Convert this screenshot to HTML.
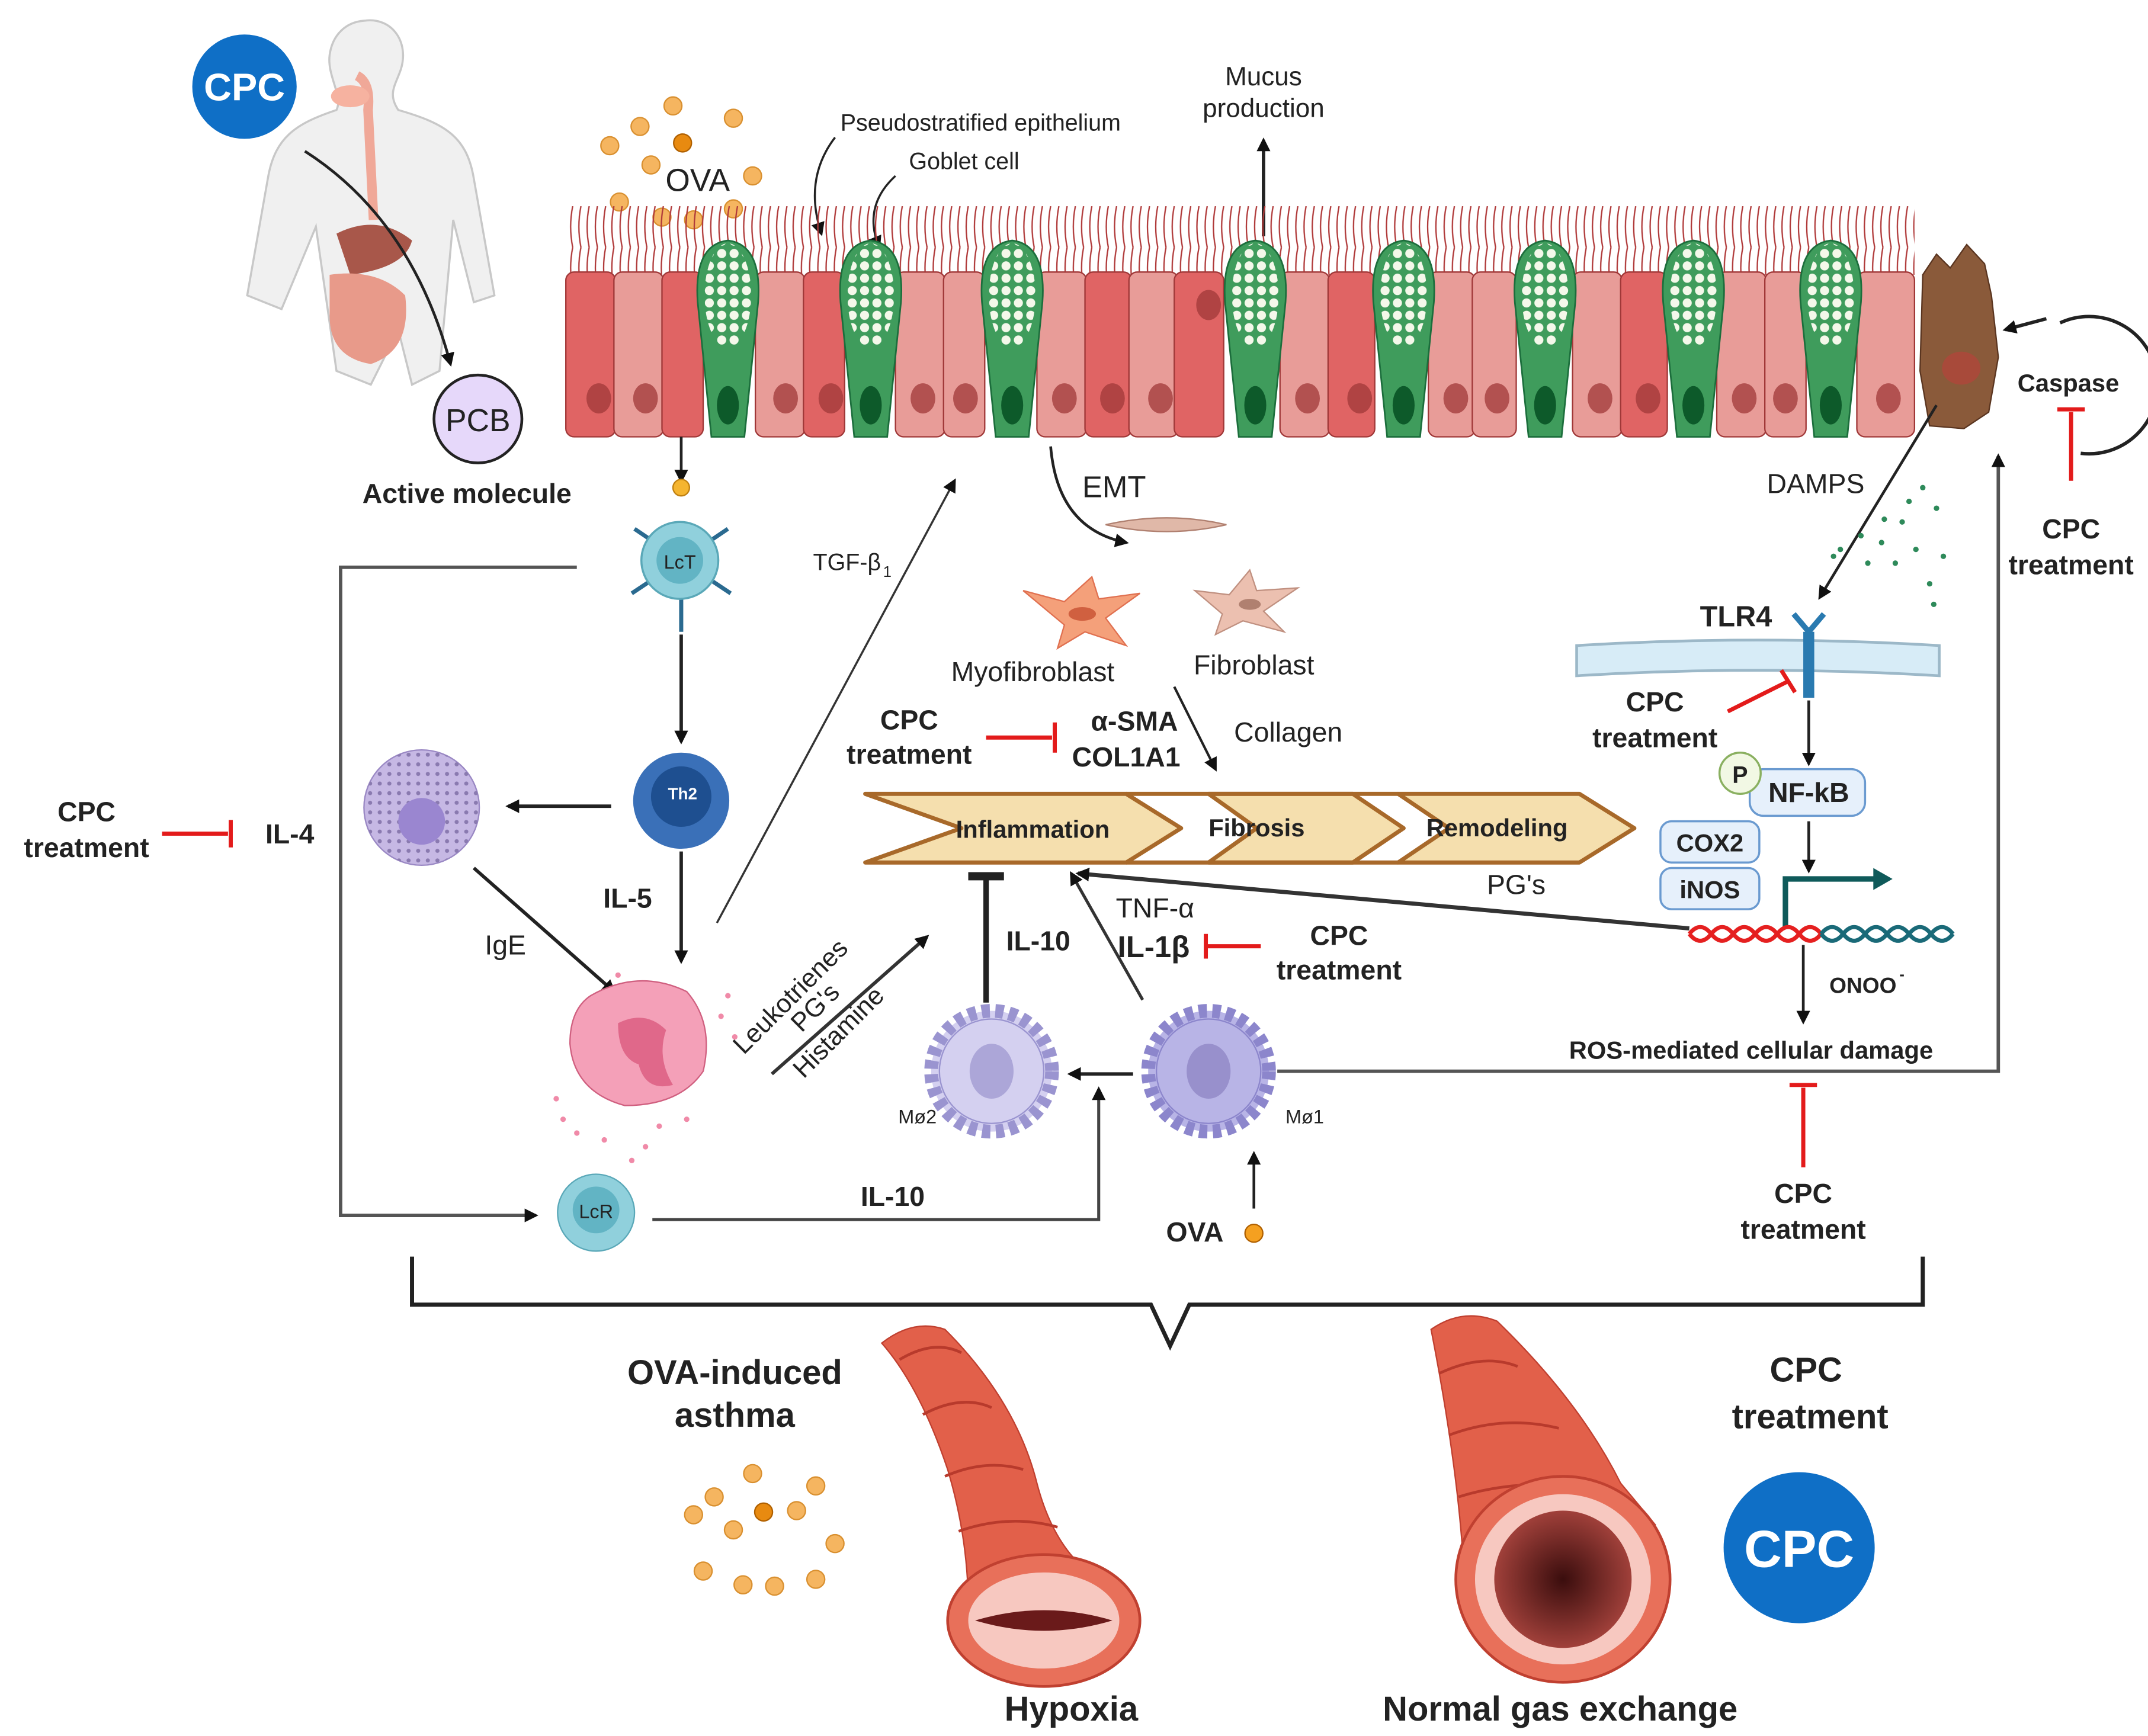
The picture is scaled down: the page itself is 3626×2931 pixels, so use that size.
<!DOCTYPE html>
<html><head><meta charset="utf-8"><style>
html,body{margin:0;padding:0;background:#fff}
svg{display:block}
text{font-family:"Liberation Sans",sans-serif;fill:#222}
.b{font-weight:bold}
</style></head><body>
<svg width="3626" height="2931" viewBox="0 0 1564 1264" xmlns="http://www.w3.org/2000/svg">
<defs>
<marker id="ah" markerWidth="10" markerHeight="10" refX="8" refY="5" orient="auto" markerUnits="userSpaceOnUse"><path d="M0,0 L10,5 L0,10 z" fill="#111"/></marker>
<pattern id="cil" width="6" height="30" patternUnits="userSpaceOnUse"><path d="M3,30 Q0,15 3,0" stroke="#b03a3a" stroke-width="1" fill="none"/></pattern>
<pattern id="gd" width="9" height="9" patternUnits="userSpaceOnUse"><circle cx="4.5" cy="4.5" r="3.3" fill="#f4f8ea"/></pattern>
<pattern id="dots" width="7" height="7" patternUnits="userSpaceOnUse"><circle cx="3.5" cy="3.5" r="1.5" fill="#8a7ab0"/></pattern>
<radialGradient id="lum" cx="50%" cy="50%" r="50%"><stop offset="0" stop-color="#3a0d0d"/><stop offset="1" stop-color="#a0403a"/></radialGradient>
</defs>

<path d="M265,15 C285,12 298,30 292,50 C288,62 282,68 290,80 C325,90 340,100 345,130 L360,215 L345,220 L330,160 L320,270 L300,280 L290,240 L270,280 L245,270 L230,165 L205,225 L180,215 L195,130 C200,100 215,90 245,80 C250,70 238,55 240,40 C242,25 252,16 265,15z" fill="#f0f0f0" stroke="#c8c8c8" stroke-width="1.5"/>
<path d="M260,55 Q270,60 268,80 L272,160" stroke="#f0a898" stroke-width="7" fill="none"/>
<ellipse cx="255" cy="70" rx="14" ry="8" fill="#f6b2a0"/>
<path d="M245,170 Q275,155 300,175 Q295,195 255,200z" fill="#a8574a"/>
<path d="M240,200 Q275,195 295,215 Q300,255 270,265 Q240,260 240,230z" fill="#e89a8a"/>
<circle cx="178" cy="63" r="38" fill="#0f6fc6"/>
<text x="178" y="73" text-anchor="middle" class="b" font-size="28" style="fill:#fff">CPC</text>
<path d="M222,110 Q300,160 328,265" stroke="#222" stroke-width="2" fill="none" marker-end="url(#ah)"/>
<circle cx="348" cy="305" r="32" fill="#e6d8fa" stroke="#222" stroke-width="2"/>
<text x="348" y="314" text-anchor="middle" font-size="23">PCB</text>
<text x="340" y="366" text-anchor="middle" class="b" font-size="20">Active molecule</text>

<g fill="#f5b560" stroke="#d99030">
<circle cx="490" cy="77" r="6.5"/><circle cx="534" cy="86" r="6.5"/><circle cx="466" cy="92" r="6.5"/><circle cx="444" cy="106" r="6.5"/><circle cx="474" cy="120" r="6.5"/><circle cx="548" cy="128" r="6.5"/><circle cx="451" cy="147" r="6.5"/><circle cx="482" cy="158" r="6.5"/><circle cx="534" cy="152" r="6.5"/><circle cx="505" cy="160" r="6.5"/>
</g>
<circle cx="497" cy="104" r="6.5" fill="#e88a10" stroke="#b06000"/>
<text x="508" y="139" text-anchor="middle" font-size="23">OVA</text>
<text x="714" y="95" text-anchor="middle" font-size="17">Pseudostratified epithelium</text>
<text x="702" y="123" text-anchor="middle" font-size="17">Goblet cell</text>
<path d="M608,100 Q585,130 598,170" stroke="#222" stroke-width="1.5" fill="none" marker-end="url(#ah)"/>
<path d="M652,128 Q628,150 640,180" stroke="#222" stroke-width="1.5" fill="none" marker-end="url(#ah)"/>
<text x="920" y="62" text-anchor="middle" font-size="19">Mucus</text>
<text x="920" y="85" text-anchor="middle" font-size="19">production</text>
<line x1="920" y1="172" x2="920" y2="102" stroke="#222" stroke-width="2.5" marker-end="url(#ah)"/>

<rect x="412" y="150" width="982" height="50" fill="url(#cil)"/>
<g stroke="#a03838" stroke-width="1">
<rect x="412" y="198" width="36" height="120" rx="6" fill="#e06464"/>
<rect x="447" y="198" width="36" height="120" rx="6" fill="#e89c98"/>
<rect x="482" y="198" width="30" height="120" rx="6" fill="#e06464"/>
<rect x="550" y="198" width="36" height="120" rx="6" fill="#e89c98"/>
<rect x="585" y="198" width="30" height="120" rx="6" fill="#e06464"/>
<rect x="652" y="198" width="36" height="120" rx="6" fill="#e89c98"/>
<rect x="687" y="198" width="30" height="120" rx="6" fill="#e89c98"/>
<rect x="755" y="198" width="36" height="120" rx="6" fill="#e89c98"/>
<rect x="790" y="198" width="34" height="120" rx="6" fill="#e06464"/>
<rect x="822" y="198" width="36" height="120" rx="6" fill="#e89c98"/>
<rect x="855" y="198" width="36" height="120" rx="6" fill="#e06464"/>
<rect x="932" y="198" width="36" height="120" rx="6" fill="#e89c98"/>
<rect x="967" y="198" width="34" height="120" rx="6" fill="#e06464"/>
<rect x="1040" y="198" width="34" height="120" rx="6" fill="#e89c98"/>
<rect x="1072" y="198" width="32" height="120" rx="6" fill="#e89c98"/>
<rect x="1145" y="198" width="36" height="120" rx="6" fill="#e89c98"/>
<rect x="1180" y="198" width="34" height="120" rx="6" fill="#e06464"/>
<rect x="1250" y="198" width="36" height="120" rx="6" fill="#e89c98"/>
<rect x="1285" y="198" width="30" height="120" rx="6" fill="#e89c98"/>
<rect x="1352" y="198" width="42" height="120" rx="6" fill="#e89c98"/>
</g>
<g fill="#a03838" opacity="0.75">
<ellipse cx="436" cy="290" rx="9" ry="11"/><ellipse cx="470" cy="290" rx="9" ry="11"/><ellipse cx="572" cy="290" rx="9" ry="11"/><ellipse cx="605" cy="290" rx="9" ry="11"/><ellipse cx="672" cy="290" rx="9" ry="11"/><ellipse cx="703" cy="290" rx="9" ry="11"/><ellipse cx="775" cy="290" rx="9" ry="11"/><ellipse cx="810" cy="290" rx="9" ry="11"/><ellipse cx="845" cy="290" rx="9" ry="11"/><ellipse cx="880" cy="222" rx="9" ry="11"/><ellipse cx="952" cy="290" rx="9" ry="11"/><ellipse cx="990" cy="290" rx="9" ry="11"/><ellipse cx="1060" cy="290" rx="9" ry="11"/><ellipse cx="1090" cy="290" rx="9" ry="11"/><ellipse cx="1165" cy="290" rx="9" ry="11"/><ellipse cx="1200" cy="290" rx="9" ry="11"/><ellipse cx="1270" cy="290" rx="9" ry="11"/><ellipse cx="1300" cy="290" rx="9" ry="11"/><ellipse cx="1375" cy="290" rx="9" ry="11"/>
</g>
<g stroke="#1c6e3c" stroke-width="1.2">
<g transform="translate(530,0)"><path d="M-22,220 Q-25,178 0,175 Q25,178 22,220 Q18,260 12,318 L-12,318 Q-18,260 -22,220z" fill="#3f9c5c"/><ellipse cx="0" cy="215" rx="17" ry="38" fill="url(#gd)" stroke="none"/><ellipse cx="0" cy="295" rx="8" ry="14" fill="#0d5a2a" stroke="none"/></g>
<g transform="translate(634,0)"><path d="M-22,220 Q-25,178 0,175 Q25,178 22,220 Q18,260 12,318 L-12,318 Q-18,260 -22,220z" fill="#3f9c5c"/><ellipse cx="0" cy="215" rx="17" ry="38" fill="url(#gd)" stroke="none"/><ellipse cx="0" cy="295" rx="8" ry="14" fill="#0d5a2a" stroke="none"/></g>
<g transform="translate(737,0)"><path d="M-22,220 Q-25,178 0,175 Q25,178 22,220 Q18,260 12,318 L-12,318 Q-18,260 -22,220z" fill="#3f9c5c"/><ellipse cx="0" cy="215" rx="17" ry="38" fill="url(#gd)" stroke="none"/><ellipse cx="0" cy="295" rx="8" ry="14" fill="#0d5a2a" stroke="none"/></g>
<g transform="translate(914,0)"><path d="M-22,220 Q-25,178 0,175 Q25,178 22,220 Q18,260 12,318 L-12,318 Q-18,260 -22,220z" fill="#3f9c5c"/><ellipse cx="0" cy="215" rx="17" ry="38" fill="url(#gd)" stroke="none"/><ellipse cx="0" cy="295" rx="8" ry="14" fill="#0d5a2a" stroke="none"/></g>
<g transform="translate(1022,0)"><path d="M-22,220 Q-25,178 0,175 Q25,178 22,220 Q18,260 12,318 L-12,318 Q-18,260 -22,220z" fill="#3f9c5c"/><ellipse cx="0" cy="215" rx="17" ry="38" fill="url(#gd)" stroke="none"/><ellipse cx="0" cy="295" rx="8" ry="14" fill="#0d5a2a" stroke="none"/></g>
<g transform="translate(1125,0)"><path d="M-22,220 Q-25,178 0,175 Q25,178 22,220 Q18,260 12,318 L-12,318 Q-18,260 -22,220z" fill="#3f9c5c"/><ellipse cx="0" cy="215" rx="17" ry="38" fill="url(#gd)" stroke="none"/><ellipse cx="0" cy="295" rx="8" ry="14" fill="#0d5a2a" stroke="none"/></g>
<g transform="translate(1233,0)"><path d="M-22,220 Q-25,178 0,175 Q25,178 22,220 Q18,260 12,318 L-12,318 Q-18,260 -22,220z" fill="#3f9c5c"/><ellipse cx="0" cy="215" rx="17" ry="38" fill="url(#gd)" stroke="none"/><ellipse cx="0" cy="295" rx="8" ry="14" fill="#0d5a2a" stroke="none"/></g>
<g transform="translate(1333,0)"><path d="M-22,220 Q-25,178 0,175 Q25,178 22,220 Q18,260 12,318 L-12,318 Q-18,260 -22,220z" fill="#3f9c5c"/><ellipse cx="0" cy="215" rx="17" ry="38" fill="url(#gd)" stroke="none"/><ellipse cx="0" cy="295" rx="8" ry="14" fill="#0d5a2a" stroke="none"/></g>
</g>
<path d="M1400,200 L1410,185 L1420,195 L1432,178 L1445,192 L1450,215 L1455,260 L1448,300 L1430,312 L1405,310 L1398,270z" fill="#8a5a3a" stroke="#5a3520"/>
<ellipse cx="1428" cy="268" rx="14" ry="12" fill="#a84a3a"/>
<path d="M1500,235 A50,50 0 1 1 1515,330" stroke="#222" stroke-width="2.5" fill="none"/>
<path d="M1490,232 L1460,240" stroke="#222" stroke-width="2.5" marker-end="url(#ah)"/>
<text x="1506" y="285" text-anchor="middle" class="b" font-size="18">Caspase</text>
<line x1="1508" y1="350" x2="1508" y2="300" stroke="#e31b1b" stroke-width="3"/><line x1="1498" y1="298" x2="1518" y2="298" stroke="#e31b1b" stroke-width="3"/>
<text x="1508" y="392" text-anchor="middle" class="b" font-size="20">CPC</text>
<text x="1508" y="418" text-anchor="middle" class="b" font-size="20">treatment</text>

<text x="1322" y="359" text-anchor="middle" font-size="20">DAMPS</text>
<line x1="1410" y1="295" x2="1325" y2="435" stroke="#222" stroke-width="2" marker-end="url(#ah)"/>
<g fill="#2e8a5a"><circle cx="1340" cy="400" r="2"/><circle cx="1355" cy="390" r="2"/><circle cx="1370" cy="395" r="2"/><circle cx="1385" cy="380" r="2"/><circle cx="1395" cy="400" r="2"/><circle cx="1410" cy="370" r="2"/><circle cx="1400" cy="355" r="2"/><circle cx="1380" cy="410" r="2"/><circle cx="1415" cy="405" r="2"/><circle cx="1360" cy="410" r="2"/><circle cx="1390" cy="365" r="2"/><circle cx="1405" cy="425" r="2"/><circle cx="1335" cy="405" r="2"/><circle cx="1408" cy="440" r="2"/><circle cx="1372" cy="378" r="2"/></g>
<text x="1264" y="456" text-anchor="middle" class="b" font-size="21">TLR4</text>
<path d="M1148,470 Q1280,462 1412,470 L1412,492 Q1280,484 1148,492z" fill="#d7ecf7" stroke="#9cb8c8" stroke-width="2"/>
<rect x="1313" y="460" width="8" height="48" fill="#2a7ab0"/>
<path d="M1317,460 L1306,447 M1317,460 L1328,447" stroke="#2a7ab0" stroke-width="4"/>
<line x1="1258" y1="518" x2="1302" y2="496" stroke="#e31b1b" stroke-width="3"/><line x1="1297" y1="488" x2="1307" y2="504" stroke="#e31b1b" stroke-width="3"/>
<text x="1205" y="518" text-anchor="middle" class="b" font-size="20">CPC</text>
<text x="1205" y="544" text-anchor="middle" class="b" font-size="20">treatment</text>
<line x1="1317" y1="510" x2="1317" y2="556" stroke="#222" stroke-width="2" marker-end="url(#ah)"/>
<rect x="1274" y="560" width="84" height="34" rx="10" fill="#e6f0fb" stroke="#6a9ad0" stroke-width="1.5"/>
<text x="1317" y="584" text-anchor="middle" class="b" font-size="20">NF-kB</text>
<circle cx="1267" cy="563" r="15" fill="#f2f8e4" stroke="#8ab060" stroke-width="1.5"/>
<text x="1267" y="570" text-anchor="middle" class="b" font-size="17">P</text>
<rect x="1209" y="598" width="72" height="30" rx="8" fill="#e6f0fb" stroke="#6a9ad0" stroke-width="1.5"/>
<text x="1245" y="620" text-anchor="middle" class="b" font-size="18">COX2</text>
<rect x="1209" y="632" width="72" height="30" rx="8" fill="#e6f0fb" stroke="#6a9ad0" stroke-width="1.5"/>
<text x="1245" y="654" text-anchor="middle" class="b" font-size="18">iNOS</text>
<line x1="1317" y1="598" x2="1317" y2="634" stroke="#222" stroke-width="2" marker-end="url(#ah)"/>
<path d="M1300,675 L1300,640 L1370,640" stroke="#0f5a5a" stroke-width="4" fill="none"/><path d="M1364,632 L1378,640 L1364,648z" fill="#0f5a5a"/>
<path d="M1230,680 q8,-10 16,0 t16,0 t16,0 t16,0 t16,0 t16,0" stroke="#e52020" stroke-width="3" fill="none"/>
<path d="M1230,680 q8,10 16,0 t16,0 t16,0 t16,0 t16,0 t16,0" stroke="#e52020" stroke-width="3" fill="none"/>
<path d="M1326,680 q8,-10 16,0 t16,0 t16,0 t16,0 t16,0 t16,0" stroke="#1a6a78" stroke-width="3" fill="none"/>
<path d="M1326,680 q8,10 16,0 t16,0 t16,0 t16,0 t16,0 t16,0" stroke="#1a6a78" stroke-width="3" fill="none"/>
<line x1="1313" y1="688" x2="1313" y2="744" stroke="#222" stroke-width="2" marker-end="url(#ah)"/>
<text x="1332" y="723" class="b" font-size="16">ONOO</text><text x="1383" y="713" class="b" font-size="11">-</text>
<text x="1275" y="771" text-anchor="middle" class="b" font-size="18">ROS-mediated cellular damage</text>
<line x1="1313" y1="850" x2="1313" y2="792" stroke="#e31b1b" stroke-width="3"/><line x1="1303" y1="790" x2="1323" y2="790" stroke="#e31b1b" stroke-width="3"/>
<text x="1313" y="876" text-anchor="middle" class="b" font-size="20">CPC</text>
<text x="1313" y="902" text-anchor="middle" class="b" font-size="20">treatment</text>
<path d="M930,780 L1455,780 L1455,332" stroke="#555" stroke-width="2.5" fill="none" marker-end="url(#ah)"/>
<text x="1104" y="651" text-anchor="middle" font-size="20">PG's</text>
<line x1="1230" y1="676" x2="785" y2="636" stroke="#333" stroke-width="3" marker-end="url(#ah)"/>

<g fill="#f5dfae" stroke="#a8692a" stroke-width="3" stroke-linejoin="round">
<path d="M1018,578 L1150,578 L1190,603 L1150,628 L1018,628 L1055,603z"/>
<path d="M880,578 L985,578 L1022,603 L985,628 L880,628 L915,603z"/>
<path d="M630,578 L820,578 L860,603 L820,628 L630,628 L700,603z"/>
<path d="M820,578 L985,578 M820,628 L985,628" fill="none"/>
<path d="M985,578 L1018,578 M985,628 L1018,628" fill="none"/>
</g>
<text x="752" y="610" text-anchor="middle" class="b" font-size="18">Inflammation</text>
<text x="915" y="609" text-anchor="middle" class="b" font-size="18">Fibrosis</text>
<text x="1090" y="609" text-anchor="middle" class="b" font-size="18">Remodeling</text>

<path d="M765,325 Q770,385 820,395" stroke="#222" stroke-width="2" fill="none" marker-end="url(#ah)"/>
<text x="788" y="362" font-size="22">EMT</text>
<path d="M805,382 Q850,372 893,382 Q850,392 805,382z" fill="#e0b8a8" stroke="#b08070"/>
<path d="M745,430 L775,438 L795,420 L800,436 L830,432 L805,450 L820,470 L790,460 L770,472 L775,455z" fill="#f4a07a" stroke="#e07050"/>
<ellipse cx="788" cy="447" rx="10" ry="5" fill="#d06040"/>
<path d="M870,430 L895,433 L910,415 L915,430 L945,428 L920,445 L935,460 L905,452 L885,462 L890,447z" fill="#ecc0b0" stroke="#c09080"/>
<ellipse cx="910" cy="440" rx="8" ry="4" fill="#b08070"/>
<text x="752" y="496" text-anchor="middle" font-size="20">Myofibroblast</text>
<text x="913" y="491" text-anchor="middle" font-size="20">Fibroblast</text>
<text x="662" y="531" text-anchor="middle" class="b" font-size="20">CPC</text>
<text x="662" y="556" text-anchor="middle" class="b" font-size="20">treatment</text>
<line x1="718" y1="537" x2="766" y2="537" stroke="#e31b1b" stroke-width="3"/><line x1="768" y1="526" x2="768" y2="548" stroke="#e31b1b" stroke-width="3"/>
<text x="826" y="532" text-anchor="middle" class="b" font-size="20">α-SMA</text>
<text x="820" y="558" text-anchor="middle" class="b" font-size="20">COL1A1</text>
<text x="938" y="540" text-anchor="middle" font-size="20">Collagen</text>
<line x1="855" y1="500" x2="885" y2="560" stroke="#222" stroke-width="1.8" marker-end="url(#ah)"/>
<text x="592" y="415" font-size="17">TGF-β</text><text x="643" y="420" font-size="11">1</text>
<line x1="522" y1="672" x2="695" y2="350" stroke="#333" stroke-width="1.5" marker-end="url(#ah)"/>

<line x1="496" y1="318" x2="496" y2="350" stroke="#222" stroke-width="2" marker-end="url(#ah)"/>
<circle cx="496" cy="355" r="6" fill="#f5b530" stroke="#c08010"/>
<g stroke="#2a6a90" stroke-width="3"><line x1="496" y1="408" x2="462" y2="385"/><line x1="496" y1="408" x2="530" y2="385"/><line x1="496" y1="408" x2="460" y2="432"/><line x1="496" y1="408" x2="532" y2="432"/><line x1="496" y1="408" x2="496" y2="460"/></g>
<circle cx="495" cy="408" r="28" fill="#90d0dc" stroke="#5aa8b8" stroke-width="1.5"/>
<circle cx="495" cy="408" r="17" fill="#62b4c4"/>
<text x="495" y="414" text-anchor="middle" font-size="14">LcT</text>
<line x1="496" y1="462" x2="496" y2="540" stroke="#222" stroke-width="2.5" marker-end="url(#ah)"/>
<circle cx="496" cy="583" r="35" fill="#3a70b8"/>
<circle cx="496" cy="580" r="22" fill="#1e4f90"/>
<text x="497" y="582" text-anchor="middle" class="b" font-size="12" style="fill:#fff">Th2</text>
<line x1="445" y1="587" x2="370" y2="587" stroke="#222" stroke-width="2.5" marker-end="url(#ah)"/>
<circle cx="307" cy="588" r="42" fill="#c6b8e4" stroke="#9a88c4"/>
<circle cx="307" cy="588" r="42" fill="url(#dots)"/>
<circle cx="307" cy="598" r="17" fill="#9a86d0"/>
<text x="457" y="661" text-anchor="middle" class="b" font-size="20">IL-5</text>
<line x1="496" y1="620" x2="496" y2="700" stroke="#222" stroke-width="2.5" marker-end="url(#ah)"/>
<text x="368" y="695" text-anchor="middle" font-size="20">IgE</text>
<line x1="345" y1="632" x2="447" y2="722" stroke="#222" stroke-width="2.5" marker-end="url(#ah)"/>
<path d="M430,725 Q465,705 500,722 Q520,745 512,780 Q495,805 455,805 Q418,795 415,760 Q415,735 430,725z" fill="#f4a0b8" stroke="#d06080"/>
<path d="M450,745 Q470,735 485,750 Q478,770 490,790 Q470,795 465,775 Q450,770 450,745z" fill="#e0688a"/>
<g fill="#f08aa8"><circle cx="410" cy="815" r="2"/><circle cx="420" cy="825" r="2"/><circle cx="440" cy="830" r="2"/><circle cx="470" cy="835" r="2"/><circle cx="500" cy="815" r="2"/><circle cx="525" cy="740" r="2"/><circle cx="530" cy="725" r="2"/><circle cx="450" cy="710" r="2"/><circle cx="460" cy="845" r="2"/><circle cx="405" cy="800" r="2"/><circle cx="535" cy="755" r="2"/><circle cx="480" cy="820" r="2"/></g>
<text transform="translate(580,730) rotate(-45)" text-anchor="middle" font-size="19">Leukotrienes</text>
<text transform="translate(598,738) rotate(-45)" text-anchor="middle" font-size="19">PG's</text>
<text transform="translate(615,756) rotate(-45)" text-anchor="middle" font-size="19">Histamine</text>
<line x1="562" y1="782" x2="675" y2="682" stroke="#333" stroke-width="2.5" marker-end="url(#ah)"/>

<g>
<circle cx="722" cy="780" r="44" fill="#d4d0f0" stroke="#9a94d0" stroke-dasharray="6 4" stroke-width="10"/>
<circle cx="722" cy="780" r="38" fill="#d4d0f0" stroke="#9a94d0"/>
<ellipse cx="722" cy="780" rx="16" ry="20" fill="#aca6d8"/>
<circle cx="880" cy="780" r="44" fill="#b8b4e6" stroke="#8c86cc" stroke-dasharray="6 4" stroke-width="10"/>
<circle cx="880" cy="780" r="38" fill="#b8b4e6" stroke="#8c86cc"/>
<ellipse cx="880" cy="780" rx="16" ry="20" fill="#9890cc"/>
</g>
<text x="668" y="818" text-anchor="middle" font-size="14">Mø2</text>
<text x="950" y="818" text-anchor="middle" font-size="14">Mø1</text>
<line x1="825" y1="782" x2="779" y2="782" stroke="#222" stroke-width="2.5" marker-end="url(#ah)"/>
<line x1="718" y1="730" x2="718" y2="640" stroke="#222" stroke-width="4"/>
<line x1="705" y1="638" x2="731" y2="638" stroke="#222" stroke-width="6"/>
<text x="756" y="692" text-anchor="middle" class="b" font-size="20">IL-10</text>
<line x1="832" y1="728" x2="780" y2="636" stroke="#333" stroke-width="2.2" marker-end="url(#ah)"/>
<text x="841" y="668" text-anchor="middle" font-size="20">TNF-α</text>
<text x="840" y="697" text-anchor="middle" class="b" font-size="22">IL-1β</text>
<line x1="878" y1="689" x2="918" y2="689" stroke="#e31b1b" stroke-width="3"/><line x1="878" y1="680" x2="878" y2="698" stroke="#e31b1b" stroke-width="3"/>
<text x="975" y="688" text-anchor="middle" class="b" font-size="20">CPC</text>
<text x="975" y="713" text-anchor="middle" class="b" font-size="20">treatment</text>

<path d="M420,413 L248,413 L248,885 L390,885" stroke="#555" stroke-width="2.5" fill="none" marker-end="url(#ah)"/>
<circle cx="434" cy="883" r="28" fill="#90d0dc" stroke="#5aa8b8"/>
<circle cx="434" cy="881" r="17" fill="#62b4c4"/>
<text x="434" y="887" text-anchor="middle" font-size="14">LcR</text>
<path d="M475,888 L800,888 L800,793" stroke="#444" stroke-width="2.2" fill="none" marker-end="url(#ah)"/>
<text x="650" y="878" text-anchor="middle" class="b" font-size="20">IL-10</text>
<text x="870" y="904" text-anchor="middle" class="b" font-size="20">OVA</text>
<circle cx="913" cy="898" r="6.5" fill="#f5a020" stroke="#b06000"/>
<line x1="913" y1="880" x2="913" y2="840" stroke="#222" stroke-width="2" marker-end="url(#ah)"/>

<text x="63" y="598" text-anchor="middle" class="b" font-size="20">CPC</text>
<text x="63" y="624" text-anchor="middle" class="b" font-size="20">treatment</text>
<line x1="118" y1="607" x2="166" y2="607" stroke="#e31b1b" stroke-width="3"/><line x1="168" y1="597" x2="168" y2="617" stroke="#e31b1b" stroke-width="3"/>
<text x="211" y="614" text-anchor="middle" class="b" font-size="20">IL-4</text>

<path d="M300,915 L300,950 L838,950 L852,980 L866,950 L1400,950 L1400,915" stroke="#222" stroke-width="3" fill="none"/>

<text x="535" y="1008" text-anchor="middle" class="b" font-size="25">OVA-induced</text>
<text x="535" y="1039" text-anchor="middle" class="b" font-size="25">asthma</text>
<g fill="#f5b560" stroke="#d99030">
<circle cx="548" cy="1073" r="6.5"/><circle cx="594" cy="1082" r="6.5"/><circle cx="505" cy="1103" r="6.5"/><circle cx="534" cy="1114" r="6.5"/><circle cx="580" cy="1100" r="6.5"/><circle cx="608" cy="1124" r="6.5"/><circle cx="512" cy="1144" r="6.5"/><circle cx="541" cy="1154" r="6.5"/><circle cx="564" cy="1155" r="6.5"/><circle cx="594" cy="1150" r="6.5"/><circle cx="520" cy="1090" r="6.5"/>
</g>
<circle cx="556" cy="1101" r="6.5" fill="#e88a10" stroke="#b06000"/>
<!-- airway left (curved) -->
<path d="M642,978 Q665,960 688,968 Q740,1020 755,1080 Q768,1130 800,1150 L705,1170 Q705,1120 690,1070 Q670,1010 642,978z" fill="#e2604a" stroke="#c04030"/>
<g stroke="#b83a2c" stroke-width="2" fill="none"><path d="M655,990 Q680,975 700,985"/><path d="M672,1030 Q700,1015 722,1025"/><path d="M688,1075 Q718,1062 745,1070"/><path d="M698,1115 Q735,1102 770,1112"/></g>
<ellipse cx="760" cy="1180" rx="70" ry="48" fill="#e8705a" stroke="#c04030" stroke-width="2"/>
<ellipse cx="760" cy="1180" rx="55" ry="35" fill="#f7c8c0"/>
<path d="M710,1180 Q760,1165 810,1180 Q760,1195 710,1180z" fill="#6a1a1a"/>
<text x="780" y="1253" text-anchor="middle" class="b" font-size="25">Hypoxia</text>
<!-- airway right (curved) -->
<path d="M1042,968 Q1065,952 1090,962 Q1150,1020 1180,1080 L1205,1110 L1065,1130 Q1060,1060 1042,968z" fill="#e2604a" stroke="#c04030"/>
<g stroke="#b83a2c" stroke-width="2" fill="none"><path d="M1048,1000 Q1080,985 1105,995"/><path d="M1055,1045 Q1095,1030 1135,1040"/><path d="M1062,1090 Q1110,1075 1165,1085"/></g>
<ellipse cx="1138" cy="1150" rx="78" ry="75" fill="#e8705a" stroke="#c04030" stroke-width="2"/>
<ellipse cx="1138" cy="1150" rx="64" ry="62" fill="#f7c8c0"/>
<circle cx="1138" cy="1150" r="50" fill="url(#lum)"/>
<text x="1136" y="1253" text-anchor="middle" class="b" font-size="25">Normal gas exchange</text>
<text x="1315" y="1006" text-anchor="middle" class="b" font-size="25">CPC</text>
<text x="1318" y="1040" text-anchor="middle" class="b" font-size="25">treatment</text>
<circle cx="1310" cy="1127" r="55" fill="#0f6fc6"/>
<text x="1310" y="1141" text-anchor="middle" class="b" font-size="38" style="fill:#fff">CPC</text>
</svg>
</body></html>
